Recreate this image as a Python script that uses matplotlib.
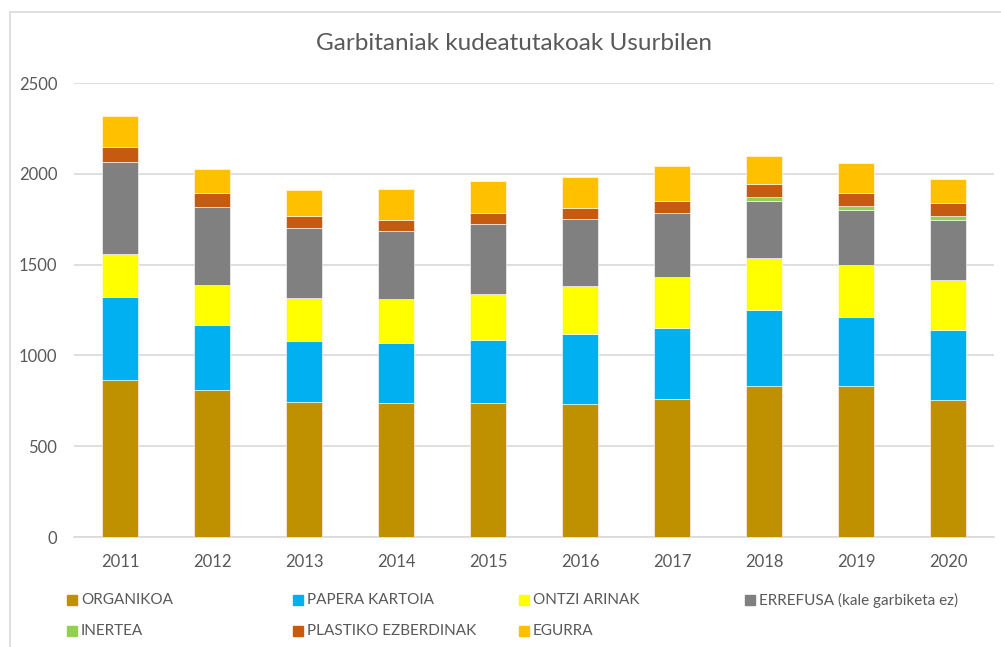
import numpy as np
import matplotlib
matplotlib.use("Agg")
import matplotlib.pyplot as plt
from matplotlib.patches import Rectangle

plt.rcParams['font.family'] = ['Lato', 'DejaVu Sans']

years = ["2011", "2012", "2013", "2014", "2015", "2016", "2017", "2018", "2019", "2020"]
organikoa = [864, 807, 744, 740, 738, 735, 760, 832, 832, 757]
papera_kartoia = [459, 360, 336, 329, 347, 382, 392, 418, 377, 384]
ontzi_arinak = [235, 221, 236, 242, 251, 267, 278, 284, 288, 275]
errefusa = [506, 428, 386, 376, 386, 366, 355, 314, 304, 332]
inertea = [0, 0, 0, 0, 0, 0, 0, 25, 19, 17]
plastiko = [86, 76, 68, 61, 63, 61, 66, 71, 74, 72]
egurra = [166, 135, 140, 166, 175, 173, 191, 156, 164, 133]

series = [
    ("ORGANIKOA", organikoa, "#BF9000"),
    ("PAPERA KARTOIA", papera_kartoia, "#00B0F0"),
    ("ONTZI ARINAK", ontzi_arinak, "#FFFF00"),
    ("ERREFUSA (kale garbiketa ez)", errefusa, "#808080"),
    ("INERTEA", inertea, "#92D050"),
    ("PLASTIKO EZBERDINAK", plastiko, "#C55A11"),
    ("EGURRA", egurra, "#FFC000"),
]

W, H = 1001, 647
fig = plt.figure(figsize=(W / 100, H / 100), dpi=100)
text_col = "#595959"

# chart border (only left and top edges are inside the picture)
fig.patches.append(Rectangle((10 / W, -0.1), 1.0, (H - 12) / H + 0.1, transform=fig.transFigure,
                             fill=False, edgecolor="#D9D9D9", linewidth=1.2))

ax = fig.add_axes([74 / W, (H - 537) / H, (994 - 74) / W, (537 - 83) / H])
x = np.arange(len(years))
bottom = np.zeros(len(years))
for name, vals, col in series:
    vals = np.array(vals, dtype=float)
    ax.bar(x, vals, 0.4, bottom=bottom, color=col, edgecolor="white", linewidth=0.4, zorder=3)
    bottom += vals

ax.set_xlim(-0.5, len(years) - 0.5)
ax.set_ylim(0, 2500)
ax.set_yticks(range(0, 2501, 500))
ax.set_xticks(x)
ax.set_xticklabels(years)
ax.grid(axis="y", color="#D9D9D9", linewidth=1.2, zorder=0)
for s in ["top", "right", "left"]:
    ax.spines[s].set_visible(False)
ax.spines["bottom"].set_color("#D9D9D9")
ax.spines["bottom"].set_linewidth(1.2)
ax.tick_params(axis="both", length=0, colors=text_col, labelsize=12)
ax.tick_params(axis="y", pad=12)
ax.tick_params(axis="x", pad=12)

fig.text(514 / W, 1 - 44 / H, "Garbitaniak kudeatutakoak Usurbilen", ha="center", va="center",
         fontsize=17.5, color=text_col)

# legend laid out in rows like the original
col_x = [67, 293, 519, 745]
row_y = [600, 631]
for i, (name, vals, col) in enumerate(series):
    cx = col_x[i % 4]
    cy = row_y[i // 4]
    fig.patches.append(Rectangle((cx / W, 1 - (cy + 5) / H), 10 / W, 10 / H,
                                 transform=fig.transFigure, color=col))
    fig.text((cx + 14) / W, 1 - cy / H, name, ha="left", va="center", fontsize=11, color=text_col)

fig.savefig("out.png", dpi=100)
